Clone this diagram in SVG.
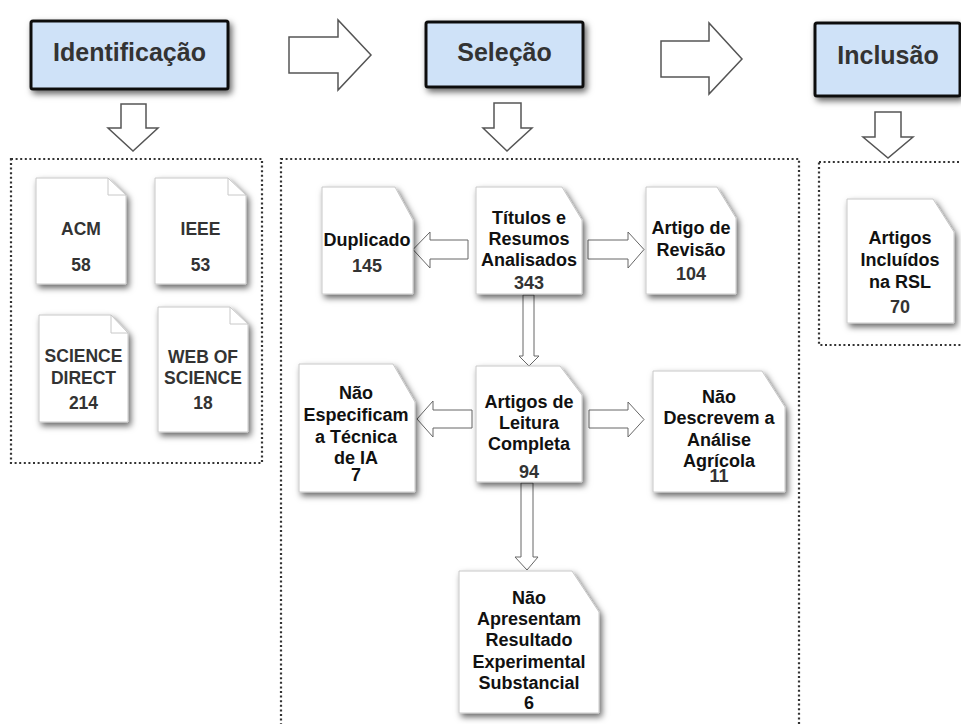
<svg xmlns="http://www.w3.org/2000/svg" width="961" height="724" viewBox="0 0 961 724">
<defs>
<filter id="sh" x="-20%" y="-20%" width="150%" height="150%">
<feDropShadow dx="2.5" dy="3.5" stdDeviation="3" flood-color="#000" flood-opacity="0.6"/>
</filter>
<style>
.title{fill:#cfe2f8;stroke:#111;stroke-width:3}
.tt{font-family:"Liberation Sans",Arial,sans-serif;font-weight:bold;font-size:25px;fill:#333;text-anchor:middle}
.doc{fill:#fff;stroke:#c8c8c8;stroke-width:1}
.fold{fill:none;stroke:#c8c8c8;stroke-width:1}
.lbl{font-family:"Liberation Sans",Arial,sans-serif;font-weight:bold;font-size:18px;fill:#111;text-anchor:middle}
.lg{font-family:"Liberation Sans",Arial,sans-serif;font-weight:bold;font-size:17.5px;fill:#333;text-anchor:middle}
.num{fill:#333}
.dot{fill:none;stroke:#333;stroke-width:2.2;stroke-dasharray:2 2.6}
.big{fill:#fff;stroke:#555;stroke-width:1.5;stroke-linejoin:miter}
.sm{fill:#fff;stroke:#666;stroke-width:1}
</style>
</defs>
<rect width="961" height="724" fill="#fff"/>

<g id="containers">
<rect class="dot" x="11" y="159" width="251" height="304"/>
<rect class="dot" x="281" y="159" width="518" height="600"/>
<rect class="dot" x="819" y="162" width="200" height="183"/>
</g>

<g id="connectors">
<path class="big" d="M289,37 H338 V20 L371,55 L338,90 V73 H289 Z"/>
<path class="big" d="M661,41 H709 V23 L742,59 L709,94 V77 H661 Z"/>
<path class="big" d="M121,104 H146 V128 H158 L133,151 L108,128 H121 Z"/>
<path class="big" d="M494,103 H521 V128 H532 L507,151 L483,128 H494 Z"/>
<path class="big" d="M875,112 H901 V137 H913 L888,158 L863,137 H875 Z"/>
<path class="sm" d="M468,240 H430 V232 L413,249.5 L430,268 V259 H468 Z"/>
<path class="sm" d="M588,240 H628 V232 L644,249.5 L628,268 V259 H588 Z"/>
<path class="sm" d="M523,295 H534 V356 H539 L529,366 L519,356 H523 Z"/>
<path class="sm" d="M472,410 H433 V401 L417,419 L433,437 V428 H472 Z"/>
<path class="sm" d="M589,410 H628 V402 L644,419.5 L628,437 V428 H589 Z"/>
<path class="sm" d="M521,483 H533 V557 H538 L527,570 L515,557 H521 Z"/>
</g>

<g id="identificacao">
<rect class="title" x="31" y="21" width="197" height="68" rx="2" filter="url(#sh)"/>
<text class="tt" x="129.5" y="61">Identificação</text>
</g>
<g id="selecao">
<rect class="title" x="426" y="22" width="157" height="65" rx="2" filter="url(#sh)"/>
<text class="tt" x="504.5" y="61">Seleção</text>
</g>
<g id="inclusao">
<rect class="title" x="815" y="23" width="145" height="73" rx="2" filter="url(#sh)"/>
<text class="tt" x="888" y="64">Inclusão</text>
</g>

<g id="acm">
<path class="doc" filter="url(#sh)" d="M36,178 H108 L126,195 V284 H36 Z"/>
<path class="fold" d="M108,178 V195 H126"/>
<text class="lg" x="81" y="235">ACM</text>
<text class="lg" x="81" y="271">58</text>
</g>
<g id="ieee">
<path class="doc" filter="url(#sh)" d="M155,178 H228 L246,195 V284 H155 Z"/>
<path class="fold" d="M228,178 V195 H246"/>
<text class="lg" x="200.5" y="235">IEEE</text>
<text class="lg" x="200.5" y="271">53</text>
</g>
<g id="sciencedirect">
<path class="doc" filter="url(#sh)" d="M39,315 H111 L128,333 V422 H39 Z"/>
<path class="fold" d="M111,315 V333 H128"/>
<text class="lg" x="83.5" y="362">SCIENCE</text>
<text class="lg" x="83.5" y="384">DIRECT</text>
<text class="lg" x="83.5" y="409">214</text>
</g>
<g id="webofscience">
<path class="doc" filter="url(#sh)" d="M158,307 H230 L248,324 V432 H158 Z"/>
<path class="fold" d="M230,307 V324 H248"/>
<text class="lg" x="203" y="363">WEB OF</text>
<text class="lg" x="203" y="384">SCIENCE</text>
<text class="lg" x="203" y="409">18</text>
</g>

<g id="duplicado">
<path class="doc" filter="url(#sh)" d="M322,187 H395 L413,220 V294 H322 Z"/>
<text class="lbl" x="367" y="246">Duplicado</text>
<text class="lbl num" x="367" y="272">145</text>
</g>
<g id="titulos">
<path class="doc" filter="url(#sh)" d="M476,187 H562 L582,220 V294 H476 Z"/>
<text class="lbl" x="529" y="224">Títulos e</text>
<text class="lbl" x="529" y="245">Resumos</text>
<text class="lbl" x="529" y="266">Analisados</text>
<text class="lbl num" x="529" y="289">343</text>
</g>
<g id="revisao">
<path class="doc" filter="url(#sh)" d="M646,187 H717 L736,218 V294 H646 Z"/>
<text class="lbl" x="691" y="234">Artigo de</text>
<text class="lbl" x="691" y="256">Revisão</text>
<text class="lbl num" x="691" y="280">104</text>
</g>
<g id="especificam">
<path class="doc" filter="url(#sh)" d="M299,364 H393 L415,402 V492 H299 Z"/>
<text class="lbl" x="356" y="399">Não</text>
<text class="lbl" x="356" y="421">Especificam</text>
<text class="lbl" x="356" y="443">a Técnica</text>
<text class="lbl" x="356" y="464">de IA</text>
<text class="lbl" x="356" y="481">7</text>
</g>
<g id="leitura">
<path class="doc" filter="url(#sh)" d="M476,366 H560 L582,395 V482 H476 Z"/>
<text class="lbl" x="529" y="408">Artigos de</text>
<text class="lbl" x="529" y="429">Leitura</text>
<text class="lbl" x="529" y="450">Completa</text>
<text class="lbl num" x="529" y="478">94</text>
</g>
<g id="descrevem">
<path class="doc" filter="url(#sh)" d="M653,371 H762 L785,407 V492 H653 Z"/>
<text class="lbl" x="719" y="403">Não</text>
<text class="lbl" x="719" y="424">Descrevem a</text>
<text class="lbl" x="719" y="446">Análise</text>
<text class="lbl" x="719" y="467">Agrícola</text>
<text class="lbl num" x="719" y="482">11</text>
</g>
<g id="apresentam">
<path class="doc" filter="url(#sh)" d="M459,571 H572 L599,612 V713 H459 Z"/>
<text class="lbl" x="529" y="604">Não</text>
<text class="lbl" x="529" y="625">Apresentam</text>
<text class="lbl" x="529" y="646">Resultado</text>
<text class="lbl" x="529" y="668">Experimental</text>
<text class="lbl" x="529" y="689">Substancial</text>
<text class="lbl" x="529" y="709">6</text>
</g>
<g id="incluidos">
<path class="doc" filter="url(#sh)" d="M847,199 H933 L954,232 V323 H847 Z"/>
<text class="lbl" x="900" y="244">Artigos</text>
<text class="lbl" x="900" y="266">Incluídos</text>
<text class="lbl" x="900" y="288">na RSL</text>
<text class="lbl num" x="900" y="313">70</text>
</g>
</svg>
